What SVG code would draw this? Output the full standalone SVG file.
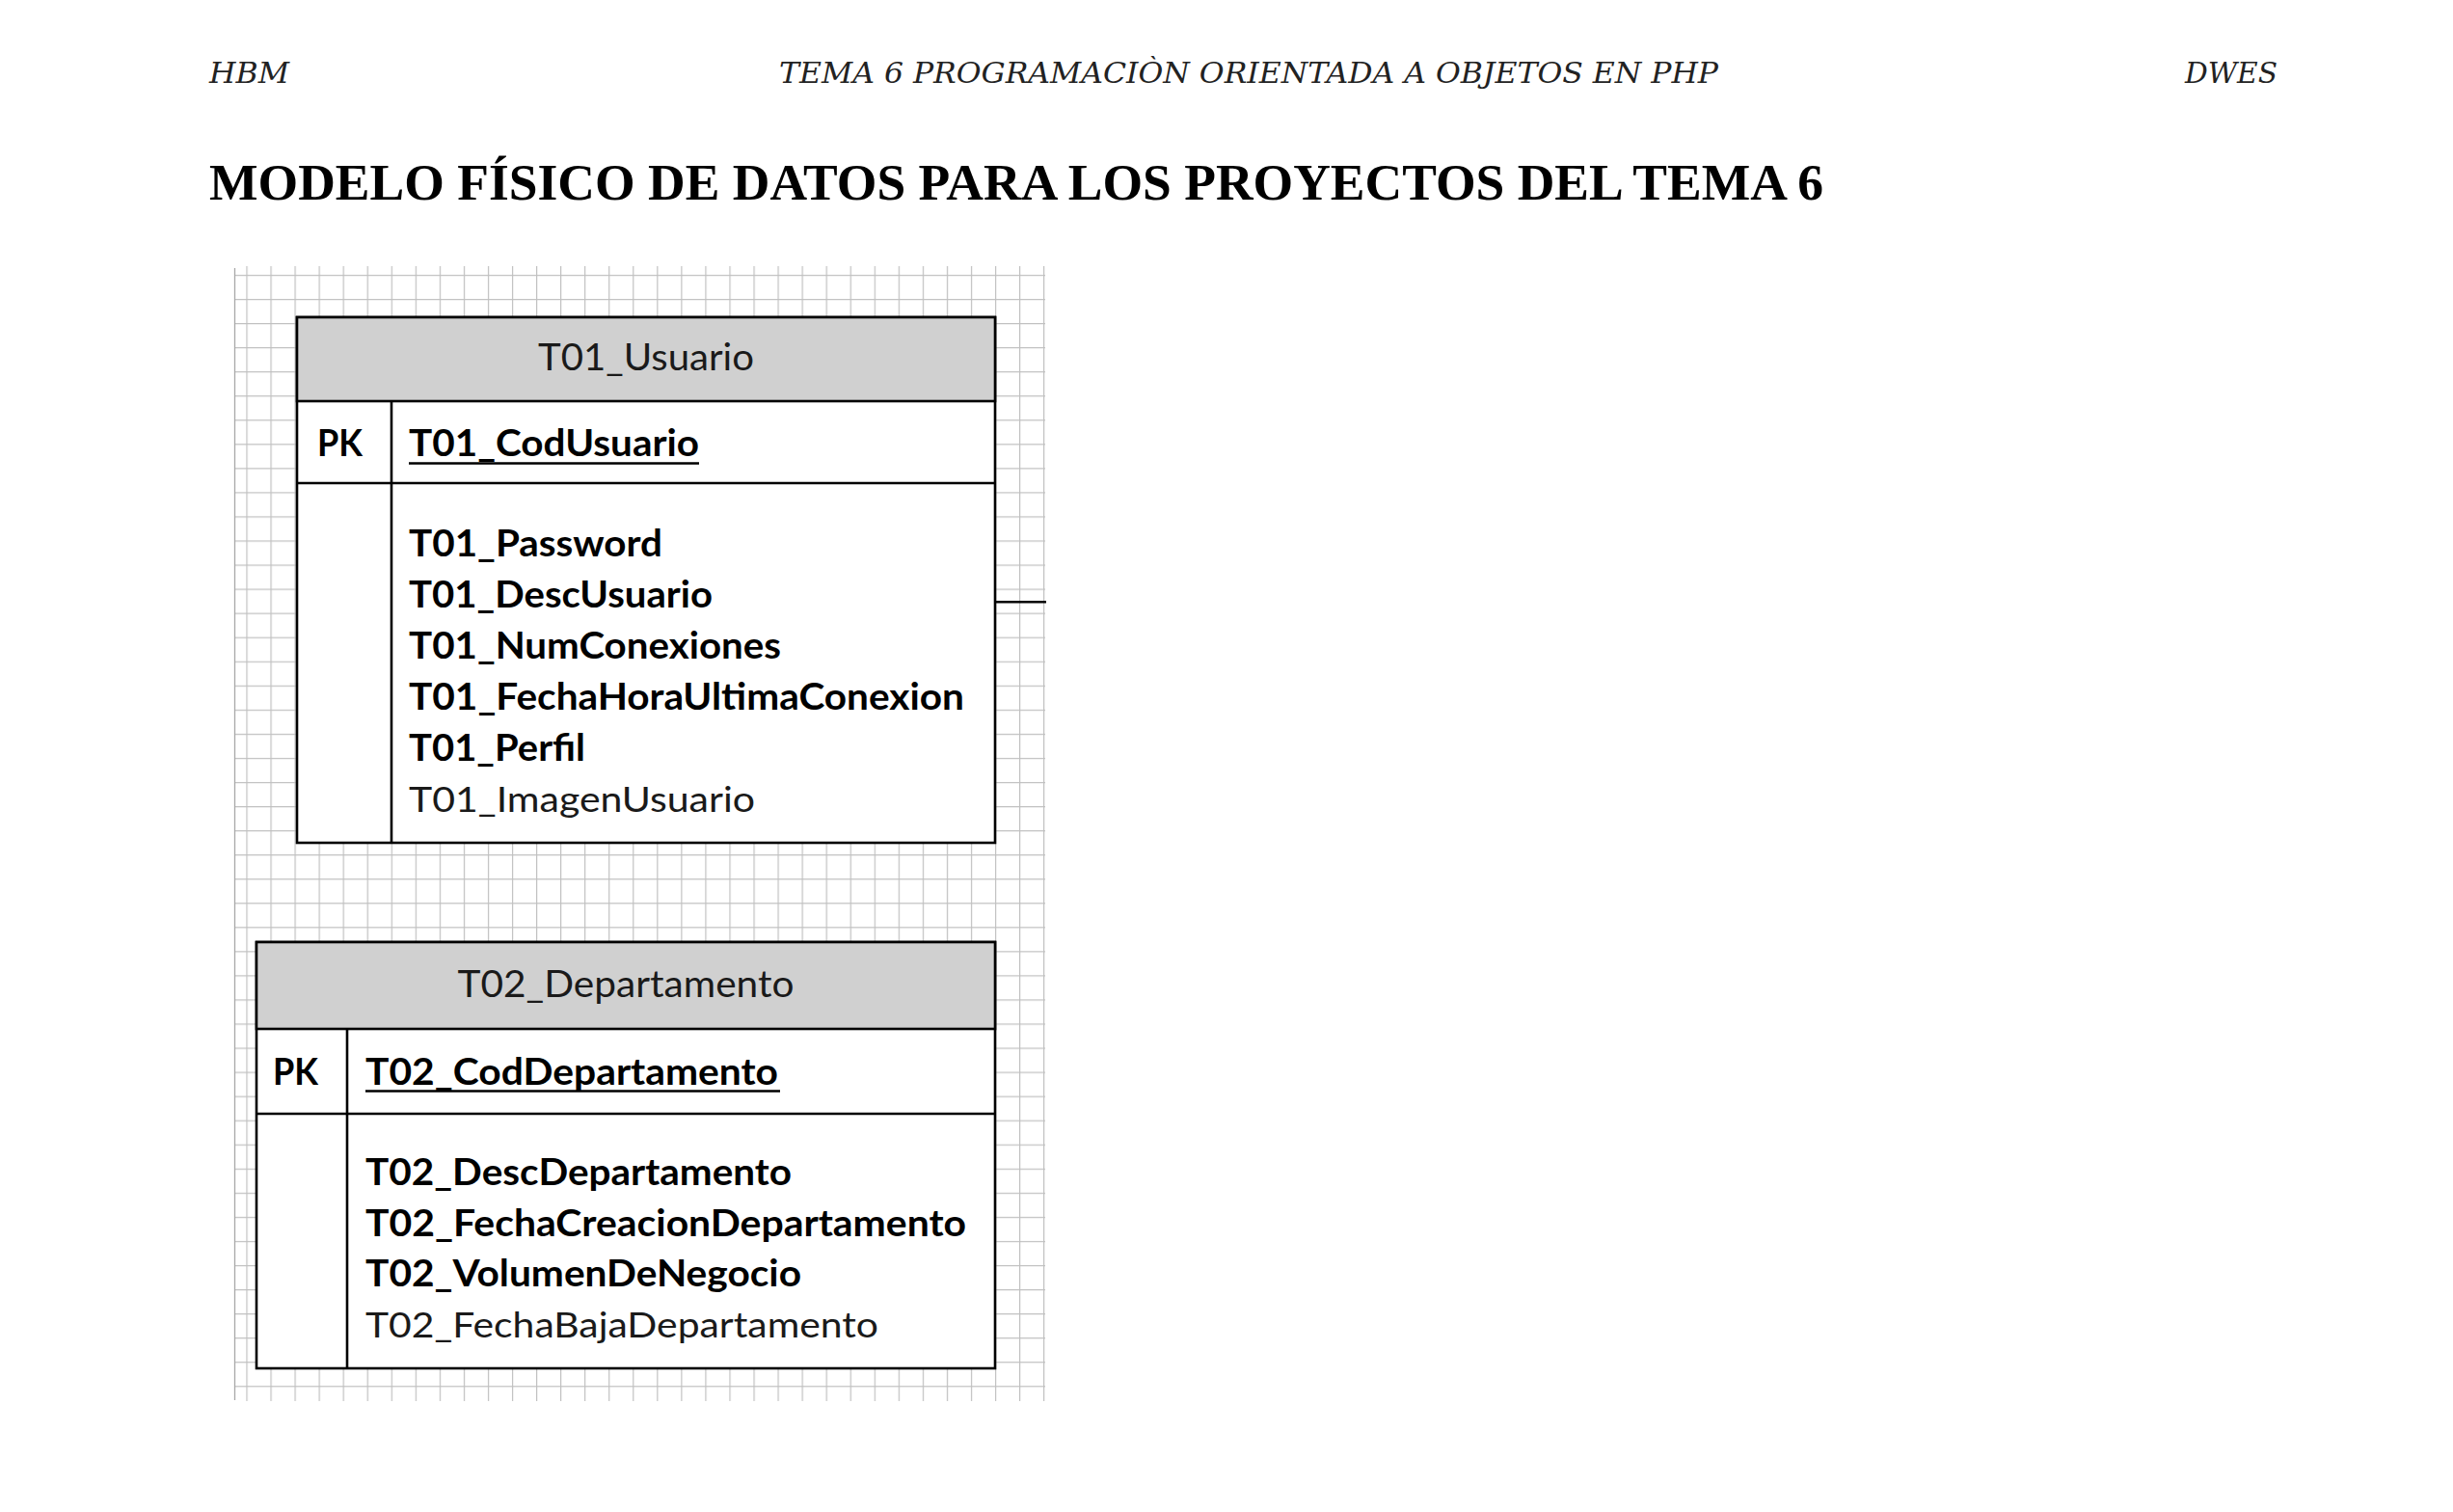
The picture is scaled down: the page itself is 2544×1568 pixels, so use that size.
<svg xmlns="http://www.w3.org/2000/svg" width="2544" height="1568" viewBox="0 0 2544 1568">
<style>
.hd{font-family:"DejaVu Serif","Liberation Serif",serif;font-style:italic;font-size:29px;fill:#222}
.title{font-family:"Liberation Serif",serif;font-weight:bold;font-size:53px;fill:#000}
.box{fill:#fff;stroke:#000;stroke-width:2.6}
.hdr{fill:#d0d0d0;stroke:#000;stroke-width:2.6}
.ln{stroke:#000;stroke-width:2.6;fill:none}
.tt{font-family:Lato,"Liberation Sans",sans-serif;font-size:38px;fill:#1a1a1a;text-anchor:middle}
.f{font-family:Lato,"Liberation Sans",sans-serif;font-size:37.5px;fill:#000;font-weight:bold}
.fr{font-family:Lato,"Liberation Sans",sans-serif;font-size:37.5px;fill:#1a1a1a}
.ul{stroke:#000;stroke-width:2.4}
</style>
<defs>
<pattern id="grid" x="255.4" y="284.9" width="25.05" height="25.05" patternUnits="userSpaceOnUse">
<path d="M0 0.6H25.05M0.6 0V25.05" stroke="#c0c0c0" stroke-width="1.2" fill="none"/>
</pattern>
</defs>
<rect width="2544" height="1568" fill="#fff"/>
<g id="page-header">
<text class="hd" x="217" y="85.5" textLength="83" lengthAdjust="spacingAndGlyphs">HBM</text>
<text class="hd" x="808" y="85.5" textLength="974" lengthAdjust="spacingAndGlyphs">TEMA 6 PROGRAMACIÒN ORIENTADA A OBJETOS EN PHP</text>
<text class="hd" x="2266" y="85.5" textLength="96" lengthAdjust="spacingAndGlyphs">DWES</text>
<text class="title" x="217" y="207" textLength="1674" lengthAdjust="spacingAndGlyphs">MODELO FÍSICO DE DATOS PARA LOS PROYECTOS DEL TEMA 6</text>
</g>
<g id="grid-bg">
<rect x="243" y="276" width="841" height="1177" fill="url(#grid)"/>
<line x1="243.5" y1="278" x2="243.5" y2="1452" stroke="#a8a8a8" stroke-width="1.3"/>
</g>
<g id="connectors">
<line x1="1032" y1="624.3" x2="1085" y2="624.3" class="ln" stroke-width="2.2"/>
</g>
<g id="T01_Usuario">
<rect x="308" y="329" width="724" height="545" class="box"/>
<rect x="308" y="329" width="724" height="87" class="hdr"/>
<line x1="308" y1="501" x2="1032" y2="501" class="ln"/>
<line x1="406" y1="416" x2="406" y2="874" class="ln"/>
<text class="tt" x="670" y="384" textLength="224" lengthAdjust="spacingAndGlyphs">T01_Usuario</text>
<text class="f" x="329" y="472.5" textLength="47" lengthAdjust="spacingAndGlyphs">PK</text>
<text class="f" x="424" y="472.5" textLength="301" lengthAdjust="spacingAndGlyphs">T01_CodUsuario</text>
<line x1="424" y1="480.5" x2="725" y2="480.5" class="ul"/>
<text class="f" x="424" y="577" textLength="263" lengthAdjust="spacingAndGlyphs">T01_Password</text>
<text class="f" x="424" y="630" textLength="315" lengthAdjust="spacingAndGlyphs">T01_DescUsuario</text>
<text class="f" x="424" y="683" textLength="386" lengthAdjust="spacingAndGlyphs">T01_NumConexiones</text>
<text class="f" x="424" y="736" textLength="576" lengthAdjust="spacingAndGlyphs">T01_FechaHoraUltimaConexion</text>
<text class="f" x="424" y="789" textLength="183" lengthAdjust="spacingAndGlyphs">T01_Perfil</text>
<text class="fr" x="424" y="842" textLength="359" lengthAdjust="spacingAndGlyphs">T01_ImagenUsuario</text>
</g>
<g id="T02_Departamento">
<rect x="266" y="977" width="766" height="442" class="box"/>
<rect x="266" y="977" width="766" height="90" class="hdr"/>
<line x1="266" y1="1155" x2="1032" y2="1155" class="ln"/>
<line x1="360" y1="1067" x2="360" y2="1419" class="ln"/>
<text class="tt" x="649" y="1034" textLength="349" lengthAdjust="spacingAndGlyphs">T02_Departamento</text>
<text class="f" x="283" y="1124.5" textLength="47" lengthAdjust="spacingAndGlyphs">PK</text>
<text class="f" x="379" y="1124.5" textLength="428" lengthAdjust="spacingAndGlyphs">T02_CodDepartamento</text>
<line x1="379" y1="1131.5" x2="809" y2="1131.5" class="ul"/>
<text class="f" x="379" y="1229" textLength="442" lengthAdjust="spacingAndGlyphs">T02_DescDepartamento</text>
<text class="f" x="379" y="1282" textLength="623" lengthAdjust="spacingAndGlyphs">T02_FechaCreacionDepartamento</text>
<text class="f" x="379" y="1334" textLength="452" lengthAdjust="spacingAndGlyphs">T02_VolumenDeNegocio</text>
<text class="fr" x="379" y="1387" textLength="532" lengthAdjust="spacingAndGlyphs">T02_FechaBajaDepartamento</text>
</g>
</svg>
